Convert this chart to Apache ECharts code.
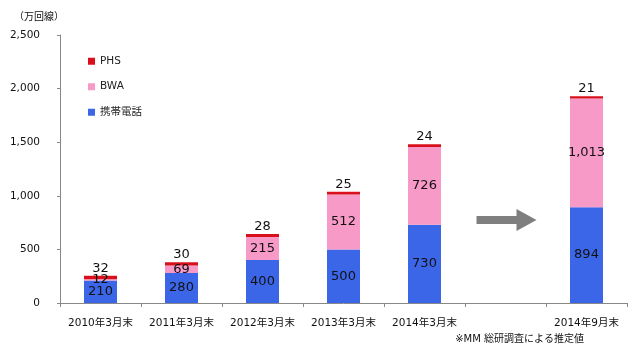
<!DOCTYPE html>
<html><head><meta charset="utf-8">
<script src="https://cdn.jsdelivr.net/npm/echarts@6/dist/echarts.min.js"></script>
<style>html,body{margin:0;padding:0;background:#fff}#c{width:640px;height:357px}</style>
</head><body><div id="c"></div>
<script>
const categories = ['2010年3月末','2011年3月末','2012年3月末','2013年3月末','2014年3月末','','2014年9月末'];
const mobile = [210, 280, 400, 500, 730, '-', 894];
const bwa = [12, 69, 215, 512, 726, '-', 1013];
const phs = [32, 30, 28, 25, 24, '-', 21];
const yTicks = [0, 500, 1000, 1500, 2000, 2500];

const numFont = 'DejaVu Sans';
const jpFont = '"DejaVu Sans", "Noto Sans CJK JP"';
const chart = echarts.init(document.getElementById('c'));
const fmt = v => Number(v).toLocaleString('en-US');
const inLabel = {show:true, position:'inside', color:'#111', fontSize:13, fontFamily:numFont, formatter:p=>fmt(p.value)};
chart.setOption({
  animation:false,
  grid:{left:60, right:13, top:35, bottom:54},
  legend:{
    data:['PHS','BWA','携帯電話'], orient:'vertical', left:83, top:51, itemGap:15,
    itemWidth:7, itemHeight:7, icon:'rect',
    textStyle:{fontSize:10.5, color:'#222', fontFamily:jpFont}
  },
  xAxis:{
    type:'category', data:categories,
    axisLine:{lineStyle:{color:'#888'}},
    axisTick:{show:true, length:4, lineStyle:{color:'#888'}},
    axisLabel:{color:'#111', fontSize:10.5, fontFamily:jpFont, margin:15, interval:0}
  },
  yAxis:{
    type:'value', min:yTicks[0], max:yTicks[yTicks.length-1], interval:500,
    name:'（万回線）', nameGap:13,
    nameTextStyle:{align:'right', color:'#111', fontSize:10, fontFamily:jpFont, padding:[0,-4,0,0]},
    axisLine:{show:true, lineStyle:{color:'#888'}},
    axisTick:{show:true, length:3, lineStyle:{color:'#888'}},
    splitLine:{show:false},
    axisLabel:{color:'#111', fontSize:10.5, fontFamily:numFont, margin:20, formatter:v=>fmt(v)}
  },
  series:[
    {name:'携帯電話', type:'bar', stack:'t', data:mobile, barWidth:33, itemStyle:{color:'#3b66e8'}, label:inLabel},
    {name:'BWA', type:'bar', stack:'t', data:bwa, itemStyle:{color:'#f79ac8'}, label:inLabel},
    {name:'PHS', type:'bar', stack:'t', data:phs, itemStyle:{color:'#d9101c'},
      label:{show:true, position:'top', distance:1, color:'#111', fontSize:13, fontFamily:numFont}}
  ]
});
const cx = chart.convertToPixel({xAxisIndex:0}, 5);
const cy = chart.convertToPixel({yAxisIndex:0}, 775);
chart.setOption({
  graphic:[
    {type:'polygon', shape:{points:[
      [cx-29, cy-4],[cx+11, cy-4],[cx+11, cy-11],[cx+31, cy],[cx+11, cy+11],[cx+11, cy+4],[cx-29, cy+4]
    ]}, style:{fill:'#7f7f7f'}},
    {type:'text', right:56, top:334, style:{text:'※MM 総研調査による推定値', fill:'#111', fontSize:10, fontFamily:jpFont}}
  ]
});
</script></body></html>
